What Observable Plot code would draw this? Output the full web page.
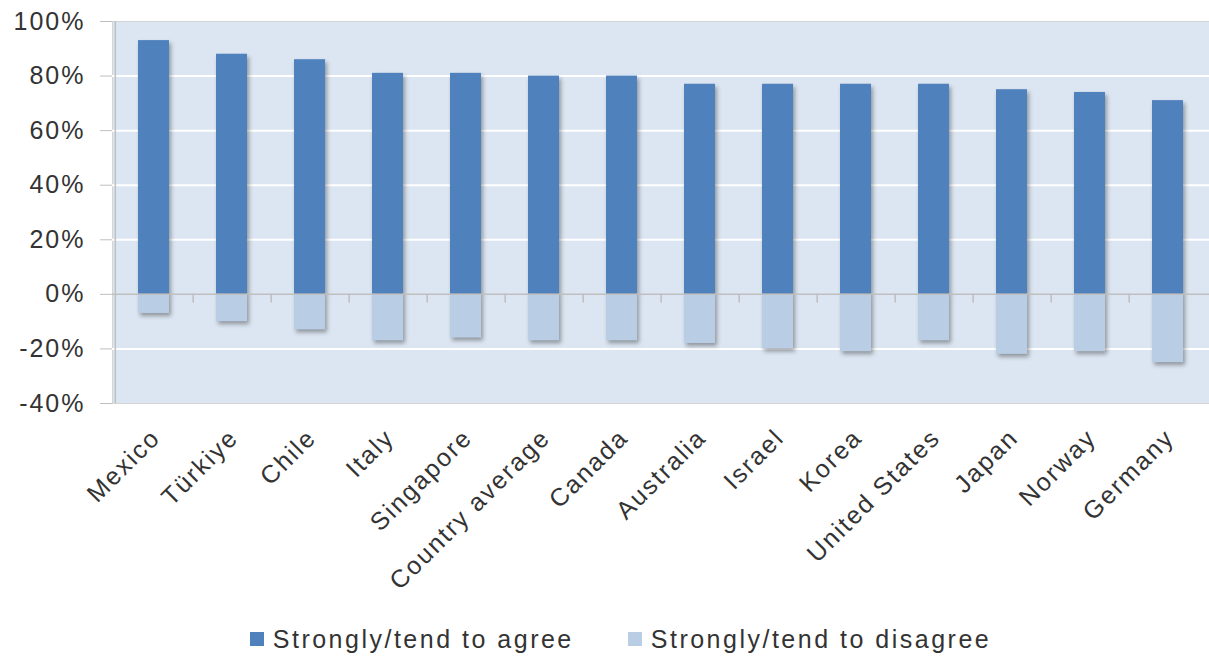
<!DOCTYPE html>
<html>
<head>
<meta charset="utf-8">
<script src="https://cdn.jsdelivr.net/npm/d3@7"></script>
<script src="https://cdn.jsdelivr.net/npm/@observablehq/plot@0.6"></script>
<style>
  html, body { margin: 0; padding: 0; background: #fff; }
  body { width: 1209px; height: 659px; overflow: hidden; font-family: "Liberation Sans", Arial, sans-serif; }
  #legend { display: flex; justify-content: center; align-items: center; height: 54px; font-size: 25px; letter-spacing: 2.5px; color: #333; padding-left: 32px; }
  .item { display: flex; align-items: center; margin: 0 27px; }
  .sw { width: 14px; height: 14px; margin-right: 9px; display: inline-block; }
  svg g[aria-label="bar"] { filter: drop-shadow(2px 3px 2px rgba(0,0,0,0.35)); }
  svg text { letter-spacing: 2px; }
</style>
</head>
<body>
<div id="chart"></div>
<div id="legend"></div>
<script>
const countries = ["Mexico", "Türkiye", "Chile", "Italy", "Singapore", "Country average", "Canada", "Australia", "Israel", "Korea", "United States", "Japan", "Norway", "Germany"];
const agree =    [93, 88, 86, 81, 81, 80, 80, 77, 77, 77, 77, 75, 74, 71];
const disagree = [-7, -10, -13, -17, -16, -17, -17, -18, -20, -21, -17, -22, -21, -25];
const yTicks = [-40, -20, 0, 20, 40, 60, 80, 100];
const seriesNames = ["Strongly/tend to agree", "Strongly/tend to disagree"];
const seriesColors = ["#4f81bd", "#b9cde5"];

const rows = countries.map((c, i) => ({country: c, agree: agree[i], disagree: disagree[i]}));

const width = 1209, marginLeft = 112, marginRight = 0;
const step = (width - marginLeft - marginRight) / countries.length;

const chart = Plot.plot({
  width,
  height: 612,
  marginLeft,
  marginRight,
  marginTop: 21,
  marginBottom: 209,
  style: {fontFamily: '"Liberation Sans", Arial, sans-serif', fontSize: "25px", color: "#333", background: "#fff"},
  x: {domain: countries, paddingInner: 0.6, paddingOuter: 0.3, label: null},
  y: {domain: [-40, 100], label: null},
  marks: [
    Plot.frame({fill: "#dce6f2", stroke: "#d4d4d4"}),
    Plot.gridY(yTicks.filter(d => d !== 0 && d !== 100 && d !== -40), {stroke: "#ffffff", strokeOpacity: 1, strokeWidth: 2}),
    Plot.barY(rows, {x: "country", y: "agree", fill: seriesColors[0]}),
    Plot.barY(rows, {x: "country", y: "disagree", fill: seriesColors[1]}),
    Plot.ruleY([0], {stroke: "#bfbfbf", strokeWidth: 1.5}),
    Plot.ruleX(countries.slice(0, -1), {x: d => d, dx: step / 2, y1: 0, y2: -3.2, stroke: "#bfbfbf", strokeWidth: 1.5}),
    Plot.ruleX([countries[0]], {x: d => d, dx: -step / 2 + 0.5, y1: -40, y2: 100, stroke: "#bfbfbf", strokeWidth: 1.5}),
    Plot.axisY({ticks: yTicks, tickFormat: d => d + "%", tickSize: 12, tickPadding: 15, stroke: "#bfbfbf", fill: "#333", fontSize: 25}),
    Plot.axisX({tickSize: 0, tickRotate: -45, tickPadding: 30, dx: 2, fill: "#333", fontSize: 25})
  ]
});
document.getElementById("chart").appendChild(chart);

const legend = document.getElementById("legend");
seriesNames.forEach((n, i) => {
  const it = document.createElement("div");
  it.className = "item";
  const sw = document.createElement("span");
  sw.className = "sw";
  sw.style.background = seriesColors[i];
  it.appendChild(sw);
  it.appendChild(document.createTextNode(n));
  legend.appendChild(it);
});
</script>
</body>
</html>
